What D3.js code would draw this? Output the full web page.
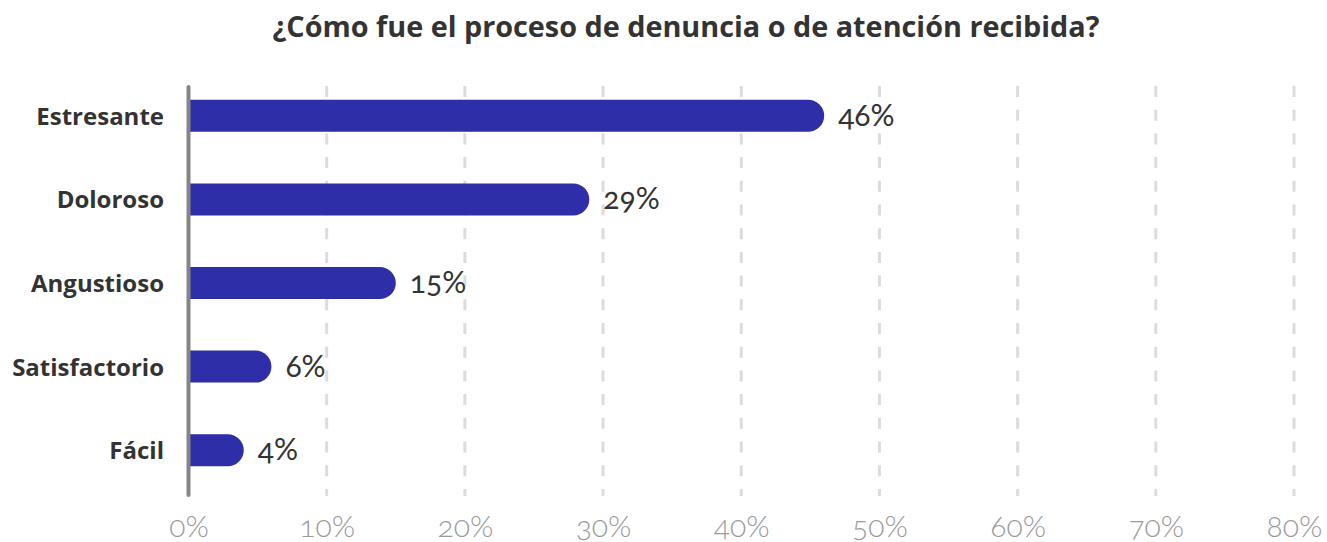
<!DOCTYPE html>
<html>
<head>
<meta charset="utf-8">
<script src="https://cdn.jsdelivr.net/npm/d3@7"></script>
<style>
  html, body { margin: 0; padding: 0; background: #fff; }
  svg { display: block; }
  .onum { font-variant-numeric: oldstyle-nums; font-feature-settings: "onum" 1; }
</style>
</head>
<body>
<svg id="chart" width="1327" height="542"></svg>
<script>
// Respuestas y porcentajes
const categories = ["Estresante", "Doloroso", "Angustioso", "Satisfactorio", "Fácil"];
const values = [46, 29, 15, 6, 4];
const tickValues = [0, 10, 20, 30, 40, 50, 60, 70, 80];
const title = "¿Cómo fue el proceso de denuncia o de atención recibida?";

const W = 1327, H = 542;
const svg = d3.select("#chart");

const x = d3.scaleLinear().domain([0, 80]).range([188.5, 1294]);
const y = d3.scalePoint().domain(categories).range([74, 492]).padding(0.5);
const barH = 32;
const r = barH / 2;

// Título
svg.append("text")
  .attr("x", 686).attr("y", 37)
  .attr("text-anchor", "middle")
  .attr("font-family", "'Open Sans', sans-serif")
  .attr("font-weight", 700)
  .attr("font-size", 28.8)
  .attr("fill", "#333")
  .text(title);

// Líneas de cuadrícula discontinuas
svg.append("g").selectAll("line")
  .data(tickValues.filter(d => d > 0))
  .join("line")
  .attr("x1", d => x(d)).attr("x2", d => x(d))
  .attr("y1", 86).attr("y2", 496)
  .attr("stroke", "#dcdcdc")
  .attr("stroke-width", 3)
  .attr("stroke-dasharray", "11 12.7");

// Eje x: etiquetas de porcentaje
const xAxis = d3.axisBottom(x).tickValues(tickValues).tickFormat(d => d + "%").tickSize(0).tickPadding(0);
const gx = svg.append("g").attr("transform", "translate(0,537)").call(xAxis);
gx.select(".domain").remove();
gx.selectAll("text")
  .attr("dy", 0)
  .attr("class", "onum")
  .attr("font-family", "Lato, sans-serif")
  .attr("font-weight", 300)
  .attr("font-size", 30)
  .attr("fill", "#9a9a9a");

// Barras con extremo derecho redondeado
function barPath(d, i) {
  const x0 = x(0), x1 = x(d), yc = y(categories[i]);
  const top = yc - barH / 2, bot = yc + barH / 2;
  const rr = Math.min(r, x1 - x0);
  return `M${x0},${top} L${x1 - rr},${top} A${rr},${rr} 0 0 1 ${x1},${top + rr}` +
         ` L${x1},${bot - rr} A${rr},${rr} 0 0 1 ${x1 - rr},${bot} L${x0},${bot} Z`;
}
svg.append("g").selectAll("path")
  .data(values)
  .join("path")
  .attr("d", barPath)
  .attr("fill", "#2e2ea8");

// Etiquetas de valor
svg.append("g").selectAll("text")
  .data(values)
  .join("text")
  .attr("class", "onum")
  .attr("x", d => x(d) + 14)
  .attr("y", (d, i) => y(categories[i]) + 10)
  .attr("font-family", "Lato, sans-serif")
  .attr("font-weight", 400)
  .attr("font-size", 30)
  .attr("fill", "#333")
  .text(d => d + "%");

// Eje y: categorías
const yAxis = d3.axisLeft(y).tickSize(0).tickPadding(0);
const gy = svg.append("g").attr("transform", "translate(164,0)").call(yAxis);
gy.select(".domain").remove();
gy.selectAll("text")
  .attr("dy", "0.35em")
  .attr("font-family", "'Open Sans', sans-serif")
  .attr("font-weight", 700)
  .attr("font-size", 24)
  .attr("fill", "#333");

// Línea vertical del eje
svg.append("line")
  .attr("x1", x(0)).attr("x2", x(0))
  .attr("y1", 87).attr("y2", 495)
  .attr("stroke", "#858585")
  .attr("stroke-width", 4)
  .attr("stroke-linecap", "round");
</script>
</body>
</html>
